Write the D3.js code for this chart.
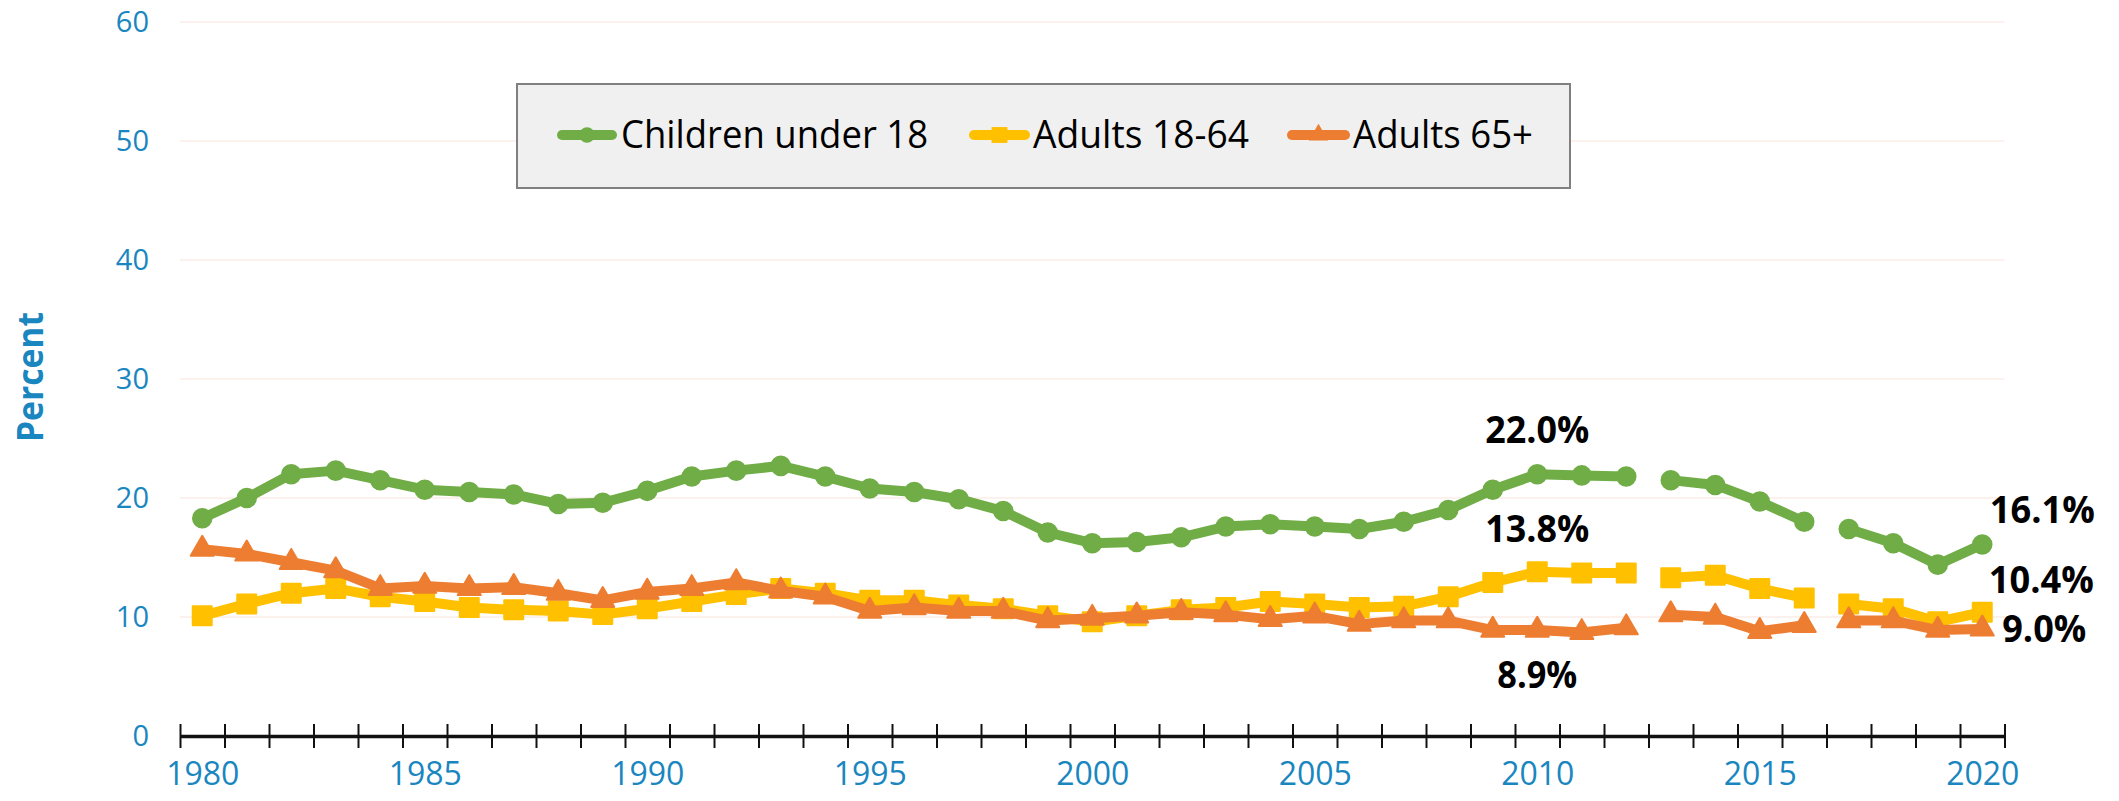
<!DOCTYPE html>
<html>
<head>
<meta charset="utf-8">
<script src="https://cdn.jsdelivr.net/npm/d3@7"></script>
<style>
  html, body { margin: 0; padding: 0; background: #ffffff; }
  svg { display: block; }
</style>
</head>
<body>
<svg id="chart" width="2119" height="801"></svg>
<script>
// ---------------- DATA ----------------
const years = d3.range(1980, 2021);
const seriesNames = ["Children under 18", "Adults 18-64", "Adults 65+"];
const children = [18.3, 20.0, 22.0, 22.3, 21.5, 20.7, 20.5, 20.3, 19.5, 19.6,
                  20.6, 21.8, 22.3, 22.7, 21.8, 20.8, 20.5, 19.9, 18.9, 17.1,
                  16.2, 16.3, 16.7, 17.6, 17.8, 17.6, 17.4, 18.0, 19.0, 20.7,
                  22.0, 21.9, 21.8, 21.5, 21.1, 19.7, 18.0, 17.4, 16.2, 14.4, 16.1];
const adults1864 = [10.1, 11.1, 12.0, 12.4, 11.7, 11.3, 10.8, 10.6, 10.5, 10.2,
                    10.7, 11.3, 11.9, 12.4, 12.0, 11.4, 11.4, 11.0, 10.7, 10.1,
                    9.6, 10.1, 10.6, 10.8, 11.3, 11.1, 10.8, 10.9, 11.7, 12.9,
                    13.8, 13.7, 13.7, 13.3, 13.5, 12.4, 11.6, 11.1, 10.7, 9.6, 10.4];
const adults65 = [15.7, 15.3, 14.6, 13.9, 12.4, 12.6, 12.4, 12.5, 12.0, 11.4,
                  12.1, 12.4, 12.9, 12.2, 11.7, 10.5, 10.8, 10.5, 10.5, 9.7,
                  9.9, 10.1, 10.4, 10.2, 9.8, 10.1, 9.4, 9.7, 9.7, 8.9,
                  8.9, 8.7, 9.1, 10.2, 10.0, 8.8, 9.3, 9.7, 9.7, 8.9, 9.0];
// line is broken between these year ranges (methodology changes)
const segments = [[1980, 2012], [2013, 2016], [2017, 2020]];
const yTicks = [0, 10, 20, 30, 40, 50, 60];
const xLabelYears = [1980, 1985, 1990, 1995, 2000, 2005, 2010, 2015, 2020];
const annotations = [
  { series: 0, year: 2010, text: "22.0%" },
  { series: 1, year: 2010, text: "13.8%" },
  { series: 2, year: 2010, text: "8.9%" },
  { series: 0, year: 2020, text: "16.1%" },
  { series: 1, year: 2020, text: "10.4%" },
  { series: 2, year: 2020, text: "9.0%" }
];

// ---------------- STYLE / LAYOUT ----------------
const colors = ["#70ad47", "#ffc000", "#ed7d31"];
const symbols = [d3.symbolCircle, d3.symbolSquare, d3.symbolTriangle];
const symbolSizes = [270, 360, 230];
const blue = "#1a86c0";
const font = "'Open Sans', 'Liberation Sans', sans-serif";
const annOffsets = [
  { dx: 0, dy: -31 }, { dx: 0, dy: -30 }, { dx: 0, dy: 58 },
  { dx: 60, dy: -21 }, { dx: 59, dy: -19 }, { dx: 62, dy: 13 }
];
const annLengths = [104, 104, 80, 105, 105, 84];

const svg = d3.select("#chart");
const x = d3.scaleLinear().domain([1979.5, 2020.5]).range([180, 2004.5]);
const y = d3.scaleLinear().domain([0, 60]).range([736, 22]);

const allSeries = [children, adults1864, adults65];

// gridlines
svg.append("g").selectAll("line")
  .data(yTicks.filter(d => d > 0))
  .join("line")
  .attr("x1", x(1979.5)).attr("x2", x(2020.5))
  .attr("y1", d => y(d)).attr("y2", d => y(d))
  .attr("stroke", "#fbece6").attr("stroke-width", 1.5);

// y axis labels
const yAxis = svg.append("g")
  .attr("transform", `translate(${x(1979.5)},0)`)
  .call(d3.axisLeft(y).tickValues(yTicks).tickSize(0).tickPadding(31));
yAxis.select(".domain").remove();
yAxis.selectAll("text")
  .attr("fill", blue).style("font-family", font).style("font-size", "29px");

// x axis: line + crossing ticks at category boundaries
const xAxis = svg.append("g")
  .attr("transform", `translate(0,${y(0)})`)
  .call(d3.axisBottom(x).tickValues(d3.range(1979.5, 2021, 1)).tickFormat("").tickSizeOuter(0));
xAxis.select(".domain").attr("stroke", "#111").attr("stroke-width", 3.5);
xAxis.selectAll(".tick line").attr("y1", -12).attr("y2", 12).attr("stroke", "#111").attr("stroke-width", 2);

// x labels
const xLab = svg.append("g")
  .attr("transform", `translate(0,${y(0)})`)
  .call(d3.axisBottom(x).tickValues(xLabelYears).tickFormat(d3.format("d")).tickSize(0).tickPadding(26));
xLab.select(".domain").remove();
xLab.selectAll("text")
  .attr("fill", blue).style("font-family", font).style("font-size", "32px");

// Percent label
svg.append("text")
  .attr("transform", `translate(43,377) rotate(-90)`)
  .attr("text-anchor", "middle")
  .attr("fill", blue)
  .style("font-family", font).style("font-size", "36px").style("font-weight", "bold")
  .attr("textLength", 130).attr("lengthAdjust", "spacingAndGlyphs")
  .text("Percent");

// series
const line = d3.line().x(d => x(d.year)).y(d => y(d.value));
allSeries.forEach((vals, si) => {
  const g = svg.append("g");
  const pts = years.map((yr, i) => ({ year: yr, value: vals[i] }));
  segments.forEach(([a, b]) => {
    const seg = pts.filter(p => p.year >= a && p.year <= b);
    g.append("path")
      .datum(seg)
      .attr("d", line)
      .attr("fill", "none")
      .attr("stroke", colors[si])
      .attr("stroke-width", 10)
      .attr("stroke-linejoin", "round")
      .attr("stroke-linecap", "round");
  });
  g.selectAll("path.marker")
    .data(pts)
    .join("path")
    .attr("class", "marker")
    .attr("transform", d => `translate(${x(d.year)},${y(d.value)})`)
    .attr("d", d3.symbol().type(symbols[si]).size(symbolSizes[si]))
    .attr("fill", colors[si])
    .attr("stroke", colors[si])
    .attr("stroke-width", 2)
    .attr("stroke-linejoin", "round");
});

// annotations
annotations.forEach((a, i) => {
  const v = allSeries[a.series][years.indexOf(a.year)];
  svg.append("text")
    .attr("x", x(a.year) + annOffsets[i].dx)
    .attr("y", y(v) + annOffsets[i].dy)
    .attr("text-anchor", "middle")
    .attr("fill", "#000")
    .style("font-family", font).style("font-size", "38px").style("font-weight", "bold")
    .attr("textLength", annLengths[i]).attr("lengthAdjust", "spacingAndGlyphs")
    .text(a.text);
});

// legend
const legend = svg.append("g");
legend.append("rect")
  .attr("x", 517).attr("y", 84).attr("width", 1053).attr("height", 104)
  .attr("fill", "#f0f0f0").attr("stroke", "#808080").attr("stroke-width", 2);
const legendItems = [
  { lx1: 557, lx2: 617, tx: 621, tw: 307 },
  { lx1: 969, lx2: 1030, tx: 1033, tw: 216 },
  { lx1: 1287, lx2: 1350, tx: 1353, tw: 180 }
];
legendItems.forEach((it, si) => {
  legend.append("line")
    .attr("x1", it.lx1 + 5).attr("x2", it.lx2 - 5)
    .attr("y1", 135).attr("y2", 135)
    .attr("stroke", colors[si]).attr("stroke-width", 10).attr("stroke-linecap", "round");
  legend.append("path")
    .attr("transform", `translate(${(it.lx1 + it.lx2) / 2},135)`)
    .attr("d", d3.symbol().type(symbols[si]).size(symbolSizes[si] * 0.7))
    .attr("fill", colors[si]);
  legend.append("text")
    .attr("x", it.tx).attr("y", 148)
    .attr("fill", "#000")
    .style("font-family", font).style("font-size", "38px")
    .attr("textLength", it.tw).attr("lengthAdjust", "spacingAndGlyphs")
    .text(seriesNames[si]);
});
</script>
</body>
</html>
